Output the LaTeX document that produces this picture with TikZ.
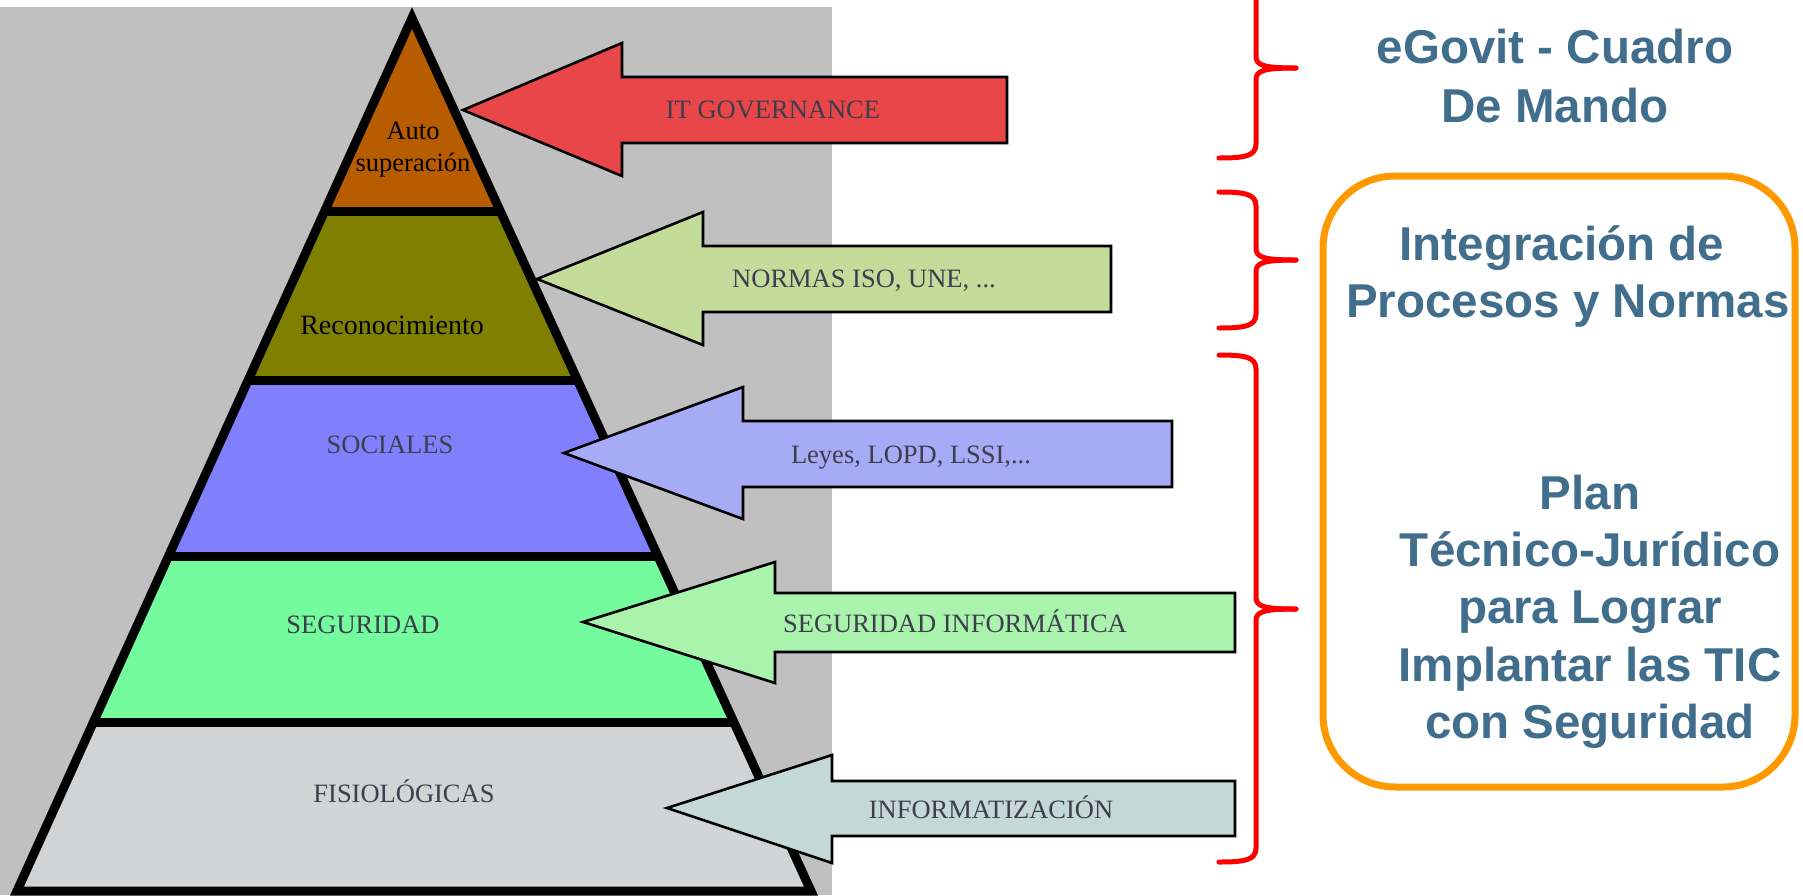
\documentclass[tikz,border=0pt]{standalone}
\usepackage{fontspec}
\setmainfont{Liberation Serif}
\newfontfamily\headfont{Liberation Sans}
\definecolor{bggray}{HTML}{C0C0C0}
\definecolor{autocol}{HTML}{B85C00}
\definecolor{recocol}{HTML}{808000}
\definecolor{soccol}{HTML}{8080FF}
\definecolor{segcol}{HTML}{74FB9E}
\definecolor{fiscol}{HTML}{D1D3D4}
\definecolor{itcol}{HTML}{E84648}
\definecolor{normcol}{HTML}{C3DC9A}
\definecolor{leycol}{HTML}{A6ABF6}
\definecolor{seginfcol}{HTML}{A9F3AC}
\definecolor{infcol}{HTML}{C4D8D7}
\definecolor{labgray}{HTML}{3D3D4D}
\definecolor{steelblue}{HTML}{406E8C}
\definecolor{boxorange}{HTML}{FF9900}
\definecolor{bracered}{HTML}{FF0000}
\newcommand{\redbrace}[3]{%
  \draw[bracestyle] (1219,#1) .. controls (1245,#1) and (1256,{#1+2}) .. (1256,{#1+14})
     -- (1256,{#2-12}) .. controls (1256,{#2-3}) and (1262,#2) .. (1296,#2);
  \draw[bracestyle] (1296,#2) .. controls (1262,#2) and (1256,{#2+3}) .. (1256,{#2+12})
     -- (1256,{#3-14}) .. controls (1256,{#3-2}) and (1245,#3) .. (1219,#3);}
\begin{document}
\begin{tikzpicture}[x=0.5pt,y=-0.5pt,
  pyrlabel/.style={font=\fontsize{13.25}{15}\selectfont, text=labgray, inner sep=0pt, anchor=base},
  blacklabel/.style={font=\fontsize{13.25}{15}\selectfont, text=black, inner sep=0pt, anchor=base},
  arrowlabel/.style={font=\fontsize{13.25}{15}\selectfont, text=labgray, inner sep=0pt, anchor=base},
  arrowshape/.style={draw=black, line width=1.3pt, line join=miter},
  bracestyle/.style={draw=bracered, line width=2.5pt, line cap=round},
  bluetext/.style={font=\headfont\bfseries\fontsize{23.75}{28}\selectfont, text=steelblue, inner sep=0pt, anchor=base},
  pyrline/.style={line width=4.5pt}]
\useasboundingbox (0,0) rectangle (1803,895);
\clip (0,0) rectangle (1803,895);
% background
\fill[bggray] (0,7) rectangle (832,895);
% pyramid bands
\fill[autocol] (412,18) -- (324.7,211) -- (500.2,211) -- cycle;
\fill[recocol] (324.7,211) -- (248.2,380) -- (577.5,380) -- (500.2,211) -- cycle;
\fill[soccol] (248.2,380) -- (168.6,556) -- (657.9,556) -- (577.5,380) -- cycle;
\fill[segcol] (168.6,556) -- (93.5,722) -- (733.8,722) -- (657.9,556) -- cycle;
\fill[fiscol] (93.5,722) -- (17,891) -- (811,891) -- (733.8,722) -- cycle;
\draw[pyrline] (324.7,211) -- (500.2,211);
\draw[pyrline] (248.2,380) -- (577.5,380);
\draw[pyrline] (168.6,556) -- (657.9,556);
\draw[pyrline] (93.5,722) -- (733.8,722);
\draw[pyrline, line join=miter] (412,18) -- (17,891) -- (811,891) -- cycle;
% pyramid labels
\node[blacklabel] (auto1) at (413,139) {Auto};
\node[blacklabel] (auto2) at (413,171) {superación};
\node[blacklabel, font=\fontsize{14}{16}\selectfont] (reco) at (392,334) {Reconocimiento};
\node[pyrlabel] (soc) at (390,453) {SOCIALES};
\node[pyrlabel] (seg) at (363,633) {SEGURIDAD};
\node[pyrlabel] (fis) at (404,802) {FISIOLÓGICAS};
% arrows
\draw[arrowshape, fill=itcol] (463,110) -- (622,43) -- (622,77) -- (1007,77) -- (1007,143) -- (622,143) -- (622,176) -- cycle;
\draw[arrowshape, fill=normcol] (537,279) -- (703,212) -- (703,246) -- (1111,246) -- (1111,312) -- (703,312) -- (703,345) -- cycle;
\draw[arrowshape, fill=leycol] (564,453) -- (743,387) -- (743,421) -- (1172,421) -- (1172,487) -- (743,487) -- (743,519) -- cycle;
\draw[arrowshape, fill=seginfcol] (583,622) -- (775,562) -- (775,593) -- (1235,593) -- (1235,652) -- (775,652) -- (775,683) -- cycle;
\draw[arrowshape, fill=infcol] (667,808) -- (832,755) -- (832,781) -- (1235,781) -- (1235,836) -- (832,836) -- (832,863) -- cycle;
\node[arrowlabel] (itg) at (773,118) {IT GOVERNANCE};
\node[arrowlabel] (norm) at (864,287) {NORMAS ISO, UNE, ...};
\node[arrowlabel] (leyes) at (911,463) {Leyes, LOPD, LSSI,...};
\node[arrowlabel] (seginf) at (955,632) {SEGURIDAD INFORMÁTICA};
\node[arrowlabel] (infor) at (991,818) {INFORMATIZACIÓN};
% braces
\redbrace{-22}{68}{158}
\redbrace{192}{260}{328}
\redbrace{355}{609}{862}
% orange box
\draw[boxorange, line width=3.5pt, rounded corners=36pt] (1323,176) rectangle (1795,787);
% right texts
\node[bluetext] (eg1) at (1555,63) {eGovit - Cuadro};
\node[bluetext] (eg2) at (1555,122) {De Mando};
\node[bluetext] (in1) at (1562,260) {Integración de};
\node[bluetext] (in2) at (1568,317) {Procesos y Normas};
\node[bluetext] (pl1) at (1590,509) {Plan};
\node[bluetext] (pl2) at (1590,566) {Técnico-Jurídico};
\node[bluetext] (pl3) at (1590,623) {para Lograr};
\node[bluetext] (pl4) at (1590,681) {Implantar las TIC};
\node[bluetext] (pl5) at (1590,738) {con Seguridad};
\end{tikzpicture}
\end{document}
